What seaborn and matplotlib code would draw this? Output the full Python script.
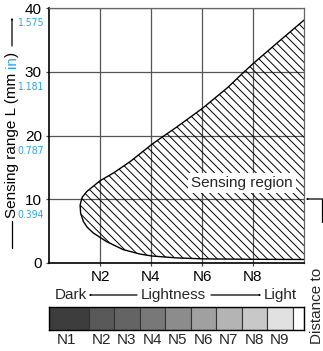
import numpy as np
import pandas as pd
import seaborn as sns
import matplotlib
matplotlib.use("Agg")
import matplotlib.pyplot as plt
from matplotlib import font_manager
from matplotlib.font_manager import FontProperties
from matplotlib.lines import Line2D
from matplotlib.patches import Rectangle, FancyArrowPatch

# ---------------- data ----------------
# upper boundary of sensing region (lightness N, distance mm), from nose to right edge
upper_x = [1.22, 1.30, 1.48, 2.00, 2.52, 3.18, 4.03, 4.42, 5.00, 6.03, 7.00, 7.55, 8.01, 9.00, 10.0]
upper_y = [9.1, 10.3, 11.2, 12.9, 14.1, 15.9, 18.6, 19.7, 21.3, 24.3, 27.5, 29.6, 31.3, 34.7, 38.1]
# lower boundary, from nose to right edge
lower_x = [1.22, 1.24, 1.35, 1.50, 1.74, 2.26, 2.91, 3.57, 4.03, 5.00, 6.03, 8.00, 10.0]
lower_y = [9.1, 7.8, 6.5, 5.6, 4.7, 3.35, 2.1, 1.4, 1.1, 0.8, 0.65, 0.58, 0.55]

y_ticks = [0, 10, 20, 30, 40]
y_inch_labels = ["0.394", "0.787", "1.181", "1.575"]
x_ticks = [2, 4, 6, 8]
x_tick_labels = ["N2", "N4", "N6", "N8"]

swatch_levels = [1, 2, 3, 4, 5, 6, 7, 8, 9]
swatch_labels = ["N1", "N2", "N3", "N4", "N5", "N6", "N7", "N8", "N9"]
swatch_colors = ["#3d3d3d", "#595959", "#646464", "#787878", "#8c8c8c",
                 "#a0a0a0", "#b4b4b4", "#c8c8c8", "#e1e1e1"]

BLUE = "#2aa7e0"
BS = chr(92)

# ---------------- style ----------------
sns.set_theme(style="white")
plt.rcParams["font.family"] = ["Liberation Sans", "DejaVu Sans"]
plt.rcParams["hatch.linewidth"] = 0.7
plt.rcParams["hatch.color"] = "black"

narrow_fp = None
for f in font_manager.fontManager.ttflist:
    nm = (f.name + " " + f.fname).lower()
    if ("narrow" in nm or "condensed" in nm or str(f.stretch) in ("condensed", "semi-condensed", "extra-condensed")) \
            and f.style == "normal" and f.weight in (400, "normal", "regular", "book"):
        narrow_fp = FontProperties(fname=f.fname)
        break

W, H = 323, 351
fig = plt.figure(figsize=(W / 100, H / 100), dpi=100)
fig.patch.set_facecolor("white")

def fx(x):
    return x / W

def fy(y):
    return 1 - y / H

ax = fig.add_axes([fx(49), fy(263), fx(304) - fx(49), fy(8) - fy(263)])
ax.set_xlim(0, 10)
ax.set_ylim(0, 40)

ax.set_xticks(x_ticks)
ax.set_yticks(y_ticks)
ax.grid(True, color="#555555", lw=0.9, zorder=1)
ax.set_axisbelow(True)

# sensing region polygon
poly_x = list(upper_x[::-1]) + list(lower_x[1:])
poly_y = list(upper_y[::-1]) + list(lower_y[1:])
ax.fill(poly_x, poly_y, facecolor="none", edgecolor="black", lw=0, hatch=BS * 4, zorder=2)

outline = pd.DataFrame({"x": poly_x, "y": poly_y})
sns.lineplot(data=outline, x="x", y="y", sort=False, estimator=None,
             color="black", lw=1.0, ax=ax, zorder=3)
ax.set_xlabel("")
ax.set_ylabel("")

for s in ["left", "bottom"]:
    ax.spines[s].set_color("black")
    ax.spines[s].set_linewidth(1.2)
for s in ["top", "right"]:
    ax.spines[s].set_color("#666666")
    ax.spines[s].set_linewidth(0.9)
    ax.spines[s].set_visible(True)

ax.tick_params(axis="both", direction="out", length=2.2, width=0.9, color="#444444",
               labelsize=11, labelcolor="black", pad=3, left=True, bottom=True)
ax.set_xticklabels(x_tick_labels)
ax.set_yticklabels([str(v) for v in y_ticks])

# inch labels under the mm labels
for v, lab in zip(y_ticks[1:], y_inch_labels):
    kw = dict(xy=(0, v), xycoords="data", xytext=(-3.8, -11), textcoords="offset points",
              ha="right", va="center", color=BLUE, annotation_clip=False)
    if narrow_fp is not None:
        fp = narrow_fp.copy()
        fp.set_size(7.5)
        ax.annotate(lab, fontproperties=fp, **kw)
    else:
        ax.annotate(lab, fontsize=5.8, **kw)

ax.text(7.57, 12.6, "Sensing region", ha="center", va="center", fontsize=11, zorder=5,
        bbox=dict(boxstyle="square,pad=0.2", facecolor="white", edgecolor="none"))

# ---------------- swatch bar ----------------
bax = fig.add_axes([fx(49), fy(330), fx(304) - fx(49), fy(307) - fy(330)])
bax.set_xlim(0, 10)
bax.set_ylim(0, 1)
for i, (lv, col) in enumerate(zip(swatch_levels, swatch_colors)):
    left = 0 if i == 0 else lv - 0.45
    right = lv + 0.55
    bax.add_patch(Rectangle((left, 0), right - left, 1, facecolor=col,
                            edgecolor="#333333", lw=0.8))
bax.add_patch(Rectangle((swatch_levels[-1] + 0.55, 0), 10 - swatch_levels[-1] - 0.55, 1,
                        facecolor="white", edgecolor="#333333", lw=0.8))
for s in bax.spines.values():
    s.set_color("black")
    s.set_linewidth(1.0)
bax.set_xticks([])
bax.set_yticks([])
for i, (lv, lab) in enumerate(zip(swatch_levels, swatch_labels)):
    left = 0 if i == 0 else lv - 0.45
    right = lv + 0.55
    bax.text((left + right) / 2 - (0.1 if i == 0 else 0), -0.12, lab, ha="center", va="top",
             fontsize=11, transform=bax.transData, clip_on=False)

# ---------------- Dark <- Lightness -> Light ----------------
ty = 295
fig.text(fx(55), fy(ty), "Dark", ha="left", va="center", fontsize=11)
fig.text(fx(173), fy(ty), "Lightness", ha="center", va="center", fontsize=11)
fig.text(fx(297), fy(ty), "Light", ha="right", va="center", fontsize=11)
arrow_kw = dict(arrowstyle="-|>,head_length=0.55,head_width=0.17", color="black", lw=0.9,
                shrinkA=0, shrinkB=0)
fig.add_artist(FancyArrowPatch((fx(137), fy(ty)), (fx(88), fy(ty)),
                               transform=fig.transFigure, **arrow_kw))
fig.add_artist(FancyArrowPatch((fx(211), fy(ty)), (fx(262), fy(ty)),
                               transform=fig.transFigure, **arrow_kw))

# ---------------- left axis title ----------------
lx = 12
fig.add_artist(Line2D([fx(lx), fx(lx)], [fy(248), fy(221)], transform=fig.transFigure,
                      color="black", lw=0.9))
fig.add_artist(FancyArrowPatch((fx(lx), fy(46)), (fx(lx), fy(17)),
                               transform=fig.transFigure, **arrow_kw))
fig.canvas.draw()
renderer = fig.canvas.get_renderer()
ycur = fy(218)
for part, col in [("Sensing range L (mm ", "black"), ("in", BLUE), (")", "black")]:
    t = fig.text(fx(lx), ycur, part, rotation=90, ha="center", va="bottom",
                 fontsize=11, color=col)
    bb = t.get_window_extent(renderer)
    ycur = ycur + bb.height / H

# ---------------- right side annotation ----------------
fig.add_artist(Line2D([fx(322), fx(322)], [fy(199), fy(222)], transform=fig.transFigure,
                      color="black", lw=0.9))
fig.add_artist(FancyArrowPatch((fx(322.5), fy(199)), (fx(305), fy(199)),
                               transform=fig.transFigure, **arrow_kw))
fig.text(fx(317), fy(306), "Distance to", rotation=90, ha="center", va="center", fontsize=11)

fig.savefig("out.png", dpi=100)
